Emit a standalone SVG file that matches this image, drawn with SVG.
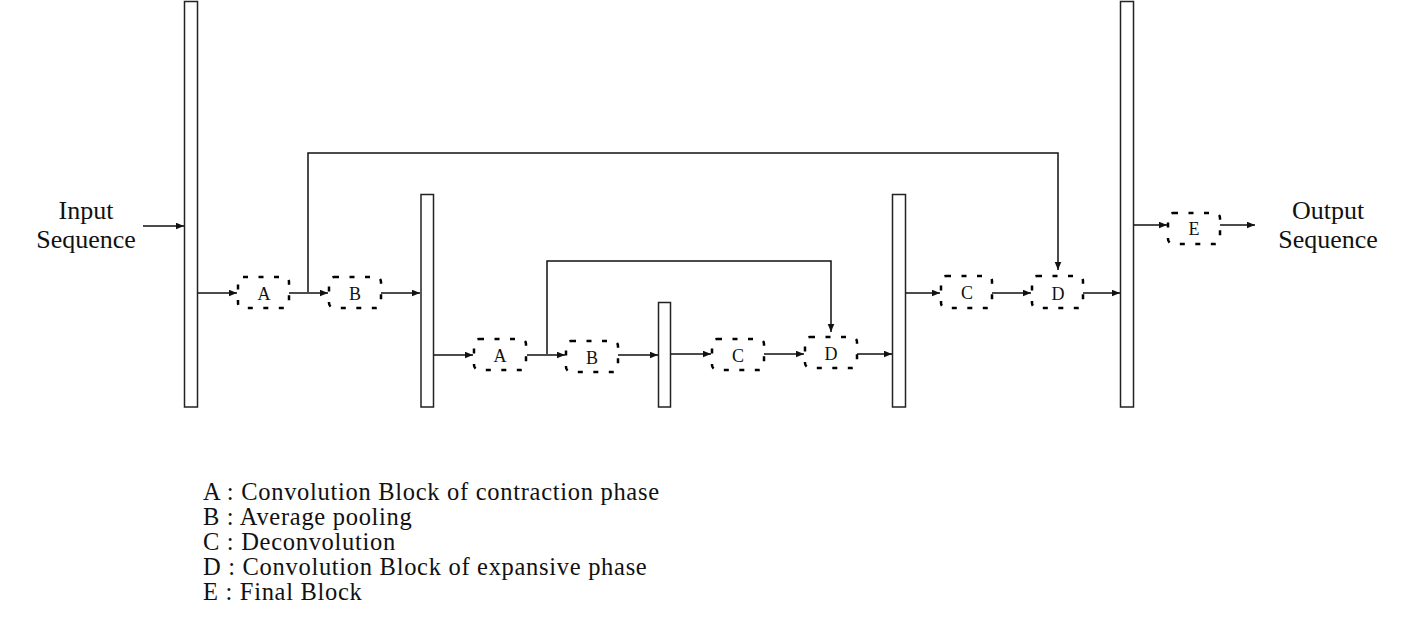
<svg xmlns="http://www.w3.org/2000/svg" width="1412" height="639" viewBox="0 0 1412 639">
<style>
.bar{fill:#fff;stroke:#222;stroke-width:1.5}
.blk{fill:none;stroke:#000;stroke-width:2.5;stroke-dasharray:5 10.5}
.lbl{font-family:"Liberation Serif","Times New Roman",serif;font-size:18px;fill:#111;text-anchor:middle}
.big{font-family:"Liberation Serif","Times New Roman",serif;font-size:26px;fill:#111;text-anchor:middle}
.leg{font-family:"Liberation Serif","Times New Roman",serif;font-size:24.5px;letter-spacing:0.7px;fill:#111}
.ln{fill:none;stroke:#111;stroke-width:1.5}
</style>
<defs>
<marker id="ah" markerUnits="userSpaceOnUse" markerWidth="9" markerHeight="8" refX="8.5" refY="3.5" orient="auto">
<path d="M0,0 L8.5,3.5 L0,7 z" fill="#111"/>
</marker>
</defs>
<g id="bar1"><rect class="bar" x="184.5" y="1.5" width="13" height="405.5"/></g>
<g id="bar2"><rect class="bar" x="421" y="194.5" width="12.5" height="212.5"/></g>
<g id="bar3"><rect class="bar" x="658.5" y="302.5" width="12" height="104.5"/></g>
<g id="bar4"><rect class="bar" x="892.5" y="194.5" width="13" height="212.5"/></g>
<g id="bar5"><rect class="bar" x="1120.5" y="1.5" width="13" height="405.5"/></g>
<g id="A1"><rect class="blk" x="238" y="277" width="51" height="31" rx="5"/><text class="lbl" x="264" y="300">A</text></g>
<g id="B1"><rect class="blk" x="329" y="277" width="52" height="31" rx="5"/><text class="lbl" x="355" y="300">B</text></g>
<g id="A2"><rect class="blk" x="474" y="339" width="52" height="31" rx="5"/><text class="lbl" x="500" y="362">A</text></g>
<g id="B2"><rect class="blk" x="566" y="341" width="52" height="31" rx="5"/><text class="lbl" x="592" y="364">B</text></g>
<g id="C2"><rect class="blk" x="712" y="339" width="52" height="31" rx="5"/><text class="lbl" x="738" y="362">C</text></g>
<g id="D2"><rect class="blk" x="805" y="337" width="52" height="31" rx="5"/><text class="lbl" x="831" y="360">D</text></g>
<g id="C1"><rect class="blk" x="941" y="276" width="51" height="32" rx="5"/><text class="lbl" x="967" y="299">C</text></g>
<g id="D1"><rect class="blk" x="1032" y="276" width="51" height="32" rx="5"/><text class="lbl" x="1058" y="300">D</text></g>
<g id="E"><rect class="blk" x="1168" y="213" width="52" height="31" rx="5"/><text class="lbl" x="1194" y="235">E</text></g>
<g id="input"><text class="big" x="86" y="219">Input</text><text class="big" x="86" y="248">Sequence</text></g>
<g id="output"><text class="big" x="1328" y="219">Output</text><text class="big" x="1328" y="248">Sequence</text></g>
<g id="connectors">
<line class="ln" x1="143" y1="226" x2="184" y2="226" marker-end="url(#ah)"/>
<line class="ln" x1="198" y1="293" x2="237" y2="293" marker-end="url(#ah)"/>
<line class="ln" x1="289" y1="293" x2="328" y2="293" marker-end="url(#ah)"/>
<line class="ln" x1="381" y1="293" x2="420" y2="293" marker-end="url(#ah)"/>
<line class="ln" x1="434" y1="355" x2="473" y2="355" marker-end="url(#ah)"/>
<line class="ln" x1="527" y1="355" x2="565" y2="355" marker-end="url(#ah)"/>
<line class="ln" x1="618" y1="355" x2="658" y2="355" marker-end="url(#ah)"/>
<line class="ln" x1="671" y1="354" x2="711" y2="354" marker-end="url(#ah)"/>
<line class="ln" x1="764" y1="354" x2="804" y2="354" marker-end="url(#ah)"/>
<line class="ln" x1="857" y1="354" x2="892" y2="354" marker-end="url(#ah)"/>
<line class="ln" x1="906" y1="293" x2="940" y2="293" marker-end="url(#ah)"/>
<line class="ln" x1="992" y1="293" x2="1031" y2="293" marker-end="url(#ah)"/>
<line class="ln" x1="1083" y1="293" x2="1120" y2="293" marker-end="url(#ah)"/>
<line class="ln" x1="1134" y1="225" x2="1167" y2="225" marker-end="url(#ah)"/>
<line class="ln" x1="1220" y1="225" x2="1255" y2="225" marker-end="url(#ah)"/>
<polyline class="ln" points="308,292 308,153 1058,153 1058,270" marker-end="url(#ah)"/>
<polyline class="ln" points="547,354 547,261 831,261 831,332" marker-end="url(#ah)"/>
</g>
<g id="legend">
<text class="leg" x="203" y="500">A : Convolution Block of contraction phase</text>
<text class="leg" x="203" y="525">B : Average pooling</text>
<text class="leg" x="203" y="550">C : Deconvolution</text>
<text class="leg" x="203" y="575">D : Convolution Block of expansive phase</text>
<text class="leg" x="203" y="600">E : Final Block</text>
</g>
</svg>
